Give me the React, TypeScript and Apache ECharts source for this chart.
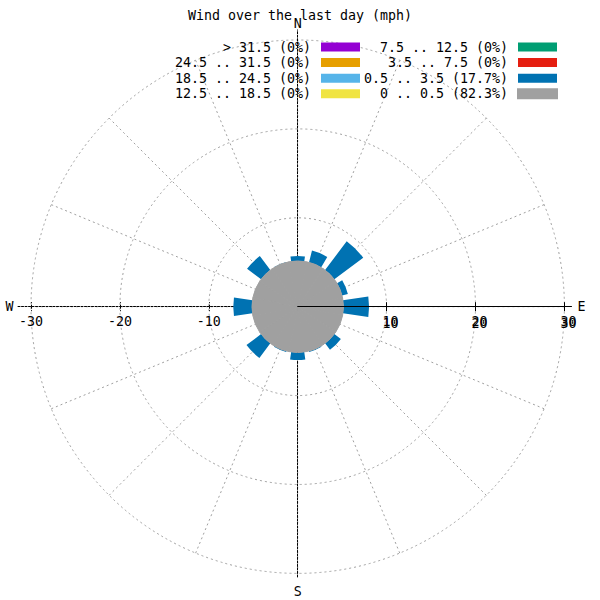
import React, { useEffect, useRef } from "react";
import * as echarts from "echarts";

// ---------- data ----------
const DIRECTIONS = ["N", "NNE", "NE", "ENE", "E", "ESE", "SE", "SSE", "S", "SSW", "SW", "WSW", "W", "WNW", "NW", "NNW"];

// percent of all observations, per direction and speed bin (mph)
const CALM_TOTAL = 82.3; // 0 .. 0.5 mph, spread evenly round the rose
const PCT_0_5_TO_3_5 = [0.56, 1.37, 4.06, 0.68, 2.88, 0, 0.92, 0.1, 0.86, 0.1, 2.05, 0, 2.1, 0, 1.97, 0.05];
const PCT_3_5_TO_7_5 = [0, 0, 0, 0, 0, 0, 0, 0, 0, 0, 0, 0, 0, 0, 0, 0];
const PCT_7_5_TO_12_5 = [0, 0, 0, 0, 0, 0, 0, 0, 0, 0, 0, 0, 0, 0, 0, 0];
const PCT_12_5_TO_18_5 = [0, 0, 0, 0, 0, 0, 0, 0, 0, 0, 0, 0, 0, 0, 0, 0];
const PCT_18_5_TO_24_5 = [0, 0, 0, 0, 0, 0, 0, 0, 0, 0, 0, 0, 0, 0, 0, 0];
const PCT_24_5_TO_31_5 = [0, 0, 0, 0, 0, 0, 0, 0, 0, 0, 0, 0, 0, 0, 0, 0];
const PCT_OVER_31_5 = [0, 0, 0, 0, 0, 0, 0, 0, 0, 0, 0, 0, 0, 0, 0, 0];

const BIN_LABELS = ["0 .. 0.5", "0.5 .. 3.5", "3.5 .. 7.5", "7.5 .. 12.5", "12.5 .. 18.5", "18.5 .. 24.5", "24.5 .. 31.5", "> 31.5"];
const BIN_COLORS = ["#a0a0a0", "#0072b2", "#e51e10", "#009e73", "#f0e442", "#56b4e9", "#e69f00", "#9400d3"];

const RADIUS_MAX = 30;
const RADIUS_INTERVAL = 10;
const X_TICKS_NEG = [-30, -20, -10];
const X_TICKS_POS = [10, 20, 30];
const TITLE = "Wind over the last day (mph)";

// ---------- layout ----------
const CX = 297.7;
const CY = 306.7;
const RPX = 266.7;
const K = RPX / RADIUS_MAX;
const EXT_E = 30.8;
const EXT_W = 31.46;
const EXT_N = 31.13;
const EXT_S = 30.4;
const FONT = "DejaVu Sans Mono";
const FS = 13.3;
const GRID_STYLE = { color: "#a0a0a0", type: [2, 3], width: 1 };
const BLACK_DOT = { color: "#000", type: [2, 1.5], width: 1 };

const pctText = (arr: number[]) => String(Number(arr.reduce((a, b) => a + b, 0).toFixed(1)));

export default function App() {
  const ref = useRef<HTMLDivElement>(null);

  useEffect(() => {
    if (!ref.current) return;
    const chart = echarts.init(ref.current, undefined, { renderer: "svg" });

    const calmPerSector = DIRECTIONS.map(() => CALM_TOTAL / DIRECTIONS.length);
    const windBins = [PCT_0_5_TO_3_5, PCT_3_5_TO_7_5, PCT_7_5_TO_12_5, PCT_12_5_TO_18_5, PCT_18_5_TO_24_5, PCT_24_5_TO_31_5, PCT_OVER_31_5];
    const names = [
      `${BIN_LABELS[0]} (${String(CALM_TOTAL)}%)`,
      ...windBins.map((b, i) => `${BIN_LABELS[i + 1]} (${pctText(b)}%)`),
    ];

    const hiddenAxis = {
      axisLine: { show: false },
      axisTick: { show: false },
      axisLabel: { show: false },
      splitLine: { show: false },
    };

    const series: any[] = [
      {
        name: names[0],
        type: "bar",
        coordinateSystem: "polar",
        polarIndex: 2,
        data: calmPerSector,
        barWidth: "100%",
        barCategoryGap: "0%",
        itemStyle: { color: BIN_COLORS[0], borderColor: BIN_COLORS[0], borderWidth: 1 },
        z: 3,
      },
      {
        name: "_calm_base",
        type: "bar",
        coordinateSystem: "polar",
        polarIndex: 1,
        stack: "wind",
        data: calmPerSector,
        barWidth: "73%",
        itemStyle: { color: "rgba(0,0,0,0)" },
        silent: true,
        z: 2,
      },
      ...windBins.map((b, i) => ({
        name: names[i + 1],
        type: "bar",
        coordinateSystem: "polar",
        polarIndex: 1,
        stack: "wind",
        data: b,
        barWidth: "73%",
        itemStyle: { color: BIN_COLORS[i + 1] },
        z: 2,
      })),
    ];

    const legendBase = (data: string[], right: number, width: number) => ({
      data,
      orient: "vertical",
      align: "right",
      right,
      top: 40.5,
      padding: 0,
      itemWidth: 39,
      itemHeight: 9,
      itemGap: 2.6,
      icon: "rect",
      selectedMode: false,
      formatter: (n: string) => `{t|${n}}`,
      textStyle: {
        fontFamily: FONT,
        fontSize: FS,
        color: "#000",
        rich: {
          t: { width, align: "right", fontFamily: FONT, fontSize: FS, lineHeight: 14, color: "#000", padding: [0, 5, 0, 0] },
        },
      },
    });

    const labelStyle = { fontFamily: FONT, fontSize: FS, color: "#000" };

    const option: any = {
      animation: false,
      backgroundColor: "#fff",
      textStyle: { fontFamily: FONT, fontSize: FS, color: "#000" },
      title: {
        text: TITLE,
        left: "center",
        top: 9,
        padding: 0,
        textStyle: { fontFamily: FONT, fontSize: FS, fontWeight: "normal", color: "#000" },
      },
      legend: [
        legendBase([names[7], names[6], names[5], names[4]], 600 - 360, 17 * 0.602 * FS),
        legendBase([names[3], names[2], names[1], names[0]], 600 - 558, 18 * 0.602 * FS),
      ],
      polar: [
        { center: [CX, CY], radius: RPX },
        { center: [CX, CY], radius: RPX },
        { center: [CX, CY], radius: RPX },
      ],
      angleAxis: [
        {
          polarIndex: 0,
          type: "value",
          min: 0,
          max: 360,
          interval: 22.5,
          startAngle: 90,
          clockwise: true,
          axisLine: { show: false },
          axisTick: { show: false },
          axisLabel: { show: false },
          splitLine: { show: true, lineStyle: GRID_STYLE },
          z: 0,
        },
        { polarIndex: 1, type: "category", data: DIRECTIONS, startAngle: 90 + 180 / DIRECTIONS.length, clockwise: true, ...hiddenAxis },
        { polarIndex: 2, type: "category", data: DIRECTIONS, startAngle: 90 + 180 / DIRECTIONS.length, clockwise: true, ...hiddenAxis },
      ],
      radiusAxis: [
        {
          polarIndex: 0,
          type: "value",
          min: 0,
          max: RADIUS_MAX,
          interval: RADIUS_INTERVAL,
          axisLine: { show: false },
          axisTick: { show: false },
          axisLabel: { show: false },
          splitLine: { show: true, lineStyle: GRID_STYLE },
          z: 0,
        },
        { polarIndex: 1, type: "value", min: 0, max: RADIUS_MAX, ...hiddenAxis },
        { polarIndex: 2, type: "value", min: 0, max: RADIUS_MAX, ...hiddenAxis },
      ],
      grid: [
        { left: CX, top: CY - 20, width: EXT_E * K, height: 20, containLabel: false, outerBoundsMode: "none" },
        { left: CX - EXT_W * K, top: CY - 20, width: EXT_W * K, height: 20, containLabel: false, outerBoundsMode: "none" },
        { left: CX - 20, top: CY - EXT_N * K, width: 20, height: EXT_N * K, containLabel: false, outerBoundsMode: "none" },
        { left: CX - 20, top: CY, width: 20, height: EXT_S * K, containLabel: false, outerBoundsMode: "none" },
      ],
      xAxis: [
        // E side: solid line, ticks below, labels
        {
          gridIndex: 0, type: "value", min: 0, max: EXT_E, position: "bottom",
          axisLine: { show: true, onZero: false, lineStyle: { color: "#000", width: 1 } },
          axisTick: { show: true, customValues: X_TICKS_POS, length: 4.5, lineStyle: { color: "#000" } },
          axisLabel: { show: true, customValues: X_TICKS_POS, margin: 8, padding: [0, 0, 0, 8], ...labelStyle },
          splitLine: { show: false },
          name: "E", nameLocation: "end", nameGap: 6, nameTextStyle: labelStyle,
          z: 6,
        },
        // E side: ticks above, second (overprinted) copy of labels
        {
          gridIndex: 0, type: "value", min: 0, max: EXT_E, position: "bottom",
          axisLine: { show: false, onZero: false },
          axisTick: { show: true, inside: true, customValues: X_TICKS_POS, length: 4.5, lineStyle: { color: "#000" } },
          axisLabel: { show: true, customValues: X_TICKS_POS, margin: 10, padding: [0, 0, 0, 8], ...labelStyle },
          splitLine: { show: false },
          z: 6,
        },
        // W side: dotted line
        {
          gridIndex: 1, type: "value", min: -EXT_W, max: 0, position: "bottom",
          axisLine: { show: true, onZero: false, lineStyle: BLACK_DOT },
          axisTick: { show: true, customValues: X_TICKS_NEG, length: 4.5, lineStyle: BLACK_DOT },
          axisLabel: { show: true, customValues: X_TICKS_NEG, margin: 8, ...labelStyle },
          splitLine: { show: false },
          name: "W", nameLocation: "start", nameGap: 4.5, nameTextStyle: labelStyle,
          z: 1,
        },
        {
          gridIndex: 1, type: "value", min: -EXT_W, max: 0, position: "bottom",
          axisLine: { show: false, onZero: false },
          axisTick: { show: true, inside: true, customValues: X_TICKS_NEG, length: 4.5, lineStyle: BLACK_DOT },
          axisLabel: { show: false },
          splitLine: { show: false },
          z: 1,
        },
        { gridIndex: 2, type: "value", min: 0, max: 1, show: false },
        { gridIndex: 3, type: "value", min: 0, max: 1, show: false },
      ],
      yAxis: [
        { gridIndex: 0, type: "value", min: 0, max: 1, show: false },
        { gridIndex: 1, type: "value", min: 0, max: 1, show: false },
        {
          gridIndex: 2, type: "value", min: 0, max: EXT_N, position: "right",
          axisLine: { show: true, onZero: false, lineStyle: BLACK_DOT },
          axisTick: { show: false }, axisLabel: { show: false }, splitLine: { show: false },
          name: "N", nameLocation: "end", nameGap: 0, nameTextStyle: labelStyle,
          z: 1,
        },
        {
          gridIndex: 3, type: "value", min: -EXT_S, max: 0, position: "right",
          axisLine: { show: true, onZero: false, lineStyle: BLACK_DOT },
          axisTick: { show: false }, axisLabel: { show: false }, splitLine: { show: false },
          name: "S", nameLocation: "start", nameGap: 8, nameTextStyle: labelStyle,
          z: 1,
        },
      ],
      series,
    };

    chart.setOption(option);
    return () => chart.dispose();
  }, []);

  return <div ref={ref} style={{ position: "absolute", left: 0, top: 0, width: 600, height: 600 }} />;
}
